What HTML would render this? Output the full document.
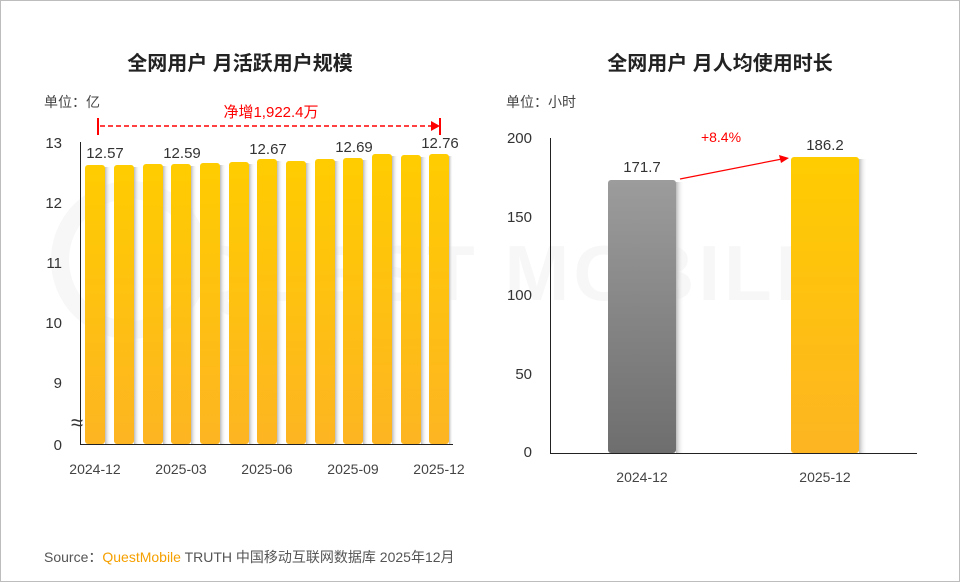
<!DOCTYPE html>
<html><head><meta charset="utf-8"><style>
html,body{margin:0;padding:0;background:#fff}
svg{display:block;font-family:"Liberation Sans","Noto Sans CJK SC",sans-serif}
</style></head><body>
<svg width="960" height="582" viewBox="0 0 960 582">
<defs>
<linearGradient id="yl" x1="0" y1="0" x2="0" y2="1"><stop offset="0" stop-color="#ffcc00"/><stop offset="1" stop-color="#fdb522"/></linearGradient>
<linearGradient id="gr" x1="0" y1="0" x2="0" y2="1"><stop offset="0" stop-color="#9c9c9c"/><stop offset="1" stop-color="#6e6e6e"/></linearGradient>
<linearGradient id="sh" x1="0" y1="0" x2="1" y2="0"><stop offset="0" stop-color="#bbb"/><stop offset="1" stop-color="#fff" stop-opacity="0"/></linearGradient>
</defs>
<rect x="0.5" y="0.5" width="959" height="581" fill="#fff" stroke="#bdbdbd"/>
<g fill="#f7f7f7" font-size="78" font-weight="bold"><text x="190" y="300" letter-spacing="4">QUEST MOBILE</text></g>
<circle cx="130" cy="260" r="70" fill="none" stroke="#f7f7f7" stroke-width="18"/>
<text x="240" y="70" font-size="20" font-weight="bold" text-anchor="middle" fill="#222">全网用户 月活跃用户规模</text>
<text x="720" y="70" font-size="20" font-weight="bold" text-anchor="middle" fill="#222">全网用户 月人均使用时长</text>
<text x="44" y="107" font-size="14" fill="#444">单位：亿</text>
<text x="506" y="107" font-size="14" fill="#444">单位：小时</text>
<text x="271" y="117" font-size="15" fill="#f00" text-anchor="middle">净增1,922.4万</text>
<line x1="98" y1="118" x2="98" y2="135" stroke="#f00" stroke-width="2"/>
<line x1="440" y1="118" x2="440" y2="135" stroke="#f00" stroke-width="2"/>
<line x1="100" y1="126" x2="432" y2="126" stroke="#f00" stroke-width="1.5" stroke-dasharray="5,3"/>
<polygon points="440,126 431,121 431,131" fill="#f00"/>
<g font-size="15" fill="#333" text-anchor="end">
<text x="62" y="148">13</text><text x="62" y="208">12</text><text x="62" y="268">11</text><text x="62" y="328">10</text><text x="62" y="388">9</text><text x="62" y="450">0</text>
</g>
<g fill="url(#sh)">
<rect x="105" y="167" width="6" height="277"/><rect x="134" y="167" width="6" height="277"/><rect x="163" y="166" width="6" height="278"/><rect x="191" y="166" width="6" height="278"/><rect x="220" y="165" width="6" height="279"/><rect x="249" y="164" width="6" height="280"/><rect x="277" y="161" width="6" height="283"/><rect x="306" y="163" width="6" height="281"/><rect x="335" y="161" width="6" height="283"/><rect x="363" y="160" width="6" height="284"/><rect x="392" y="156" width="6" height="288"/><rect x="421" y="157" width="6" height="287"/><rect x="449" y="156" width="4" height="288"/>
</g>
<g fill="url(#yl)">
<rect x="85" y="165" width="20" height="279" rx="3"/><rect x="114" y="165" width="20" height="279" rx="3"/><rect x="143" y="164" width="20" height="280" rx="3"/><rect x="171" y="164" width="20" height="280" rx="3"/><rect x="200" y="163" width="20" height="281" rx="3"/><rect x="229" y="162" width="20" height="282" rx="3"/><rect x="257" y="159" width="20" height="285" rx="3"/><rect x="286" y="161" width="20" height="283" rx="3"/><rect x="315" y="159" width="20" height="285" rx="3"/><rect x="343" y="158" width="20" height="286" rx="3"/><rect x="372" y="154" width="20" height="290" rx="3"/><rect x="401" y="155" width="20" height="289" rx="3"/><rect x="429" y="154" width="20" height="290" rx="3"/>
</g>
<line x1="80.5" y1="142" x2="80.5" y2="444" stroke="#222"/>
<line x1="80" y1="444.5" x2="453" y2="444.5" stroke="#222"/>
<text x="71" y="430" font-size="22" fill="#333">≈</text>
<g font-size="15" fill="#333" text-anchor="middle">
<text x="105" y="158">12.57</text><text x="182" y="158">12.59</text><text x="268" y="154">12.67</text><text x="354" y="152">12.69</text><text x="440" y="148">12.76</text>
</g>
<g font-size="14" fill="#444" text-anchor="middle">
<text x="95" y="474">2024-12</text><text x="181" y="474">2025-03</text><text x="267" y="474">2025-06</text><text x="353" y="474">2025-09</text><text x="439" y="474">2025-12</text>
</g>
<g font-size="15" fill="#333" text-anchor="end">
<text x="532" y="143">200</text><text x="532" y="222">150</text><text x="532" y="300">100</text><text x="532" y="379">50</text><text x="532" y="457">0</text>
</g>
<rect x="676" y="182" width="8" height="271" fill="url(#sh)"/>
<rect x="859" y="159" width="8" height="294" fill="url(#sh)"/>
<rect x="608" y="180" width="68" height="273" rx="3" fill="url(#gr)"/>
<rect x="791" y="157" width="68" height="296" rx="3" fill="url(#yl)"/>
<line x1="550.5" y1="138" x2="550.5" y2="453" stroke="#222"/>
<line x1="550" y1="453.5" x2="917" y2="453.5" stroke="#222"/>
<text x="642" y="172" font-size="15" fill="#333" text-anchor="middle">171.7</text>
<text x="825" y="150" font-size="15" fill="#333" text-anchor="middle">186.2</text>
<text x="721" y="142" font-size="14" fill="#f00" text-anchor="middle">+8.4%</text>
<line x1="680" y1="179" x2="782" y2="159" stroke="#f00" stroke-width="1.2"/>
<polygon points="789,158 779,155 781,163" fill="#f00"/>
<g font-size="14" fill="#444" text-anchor="middle">
<text x="642" y="482">2024-12</text><text x="825" y="482">2025-12</text>
</g>
<text x="44" y="562" font-size="14" fill="#555">Source：<tspan fill="#f5a000">QuestMobile</tspan> TRUTH 中国移动互联网数据库 2025年12月</text>
</svg>
</body></html>
